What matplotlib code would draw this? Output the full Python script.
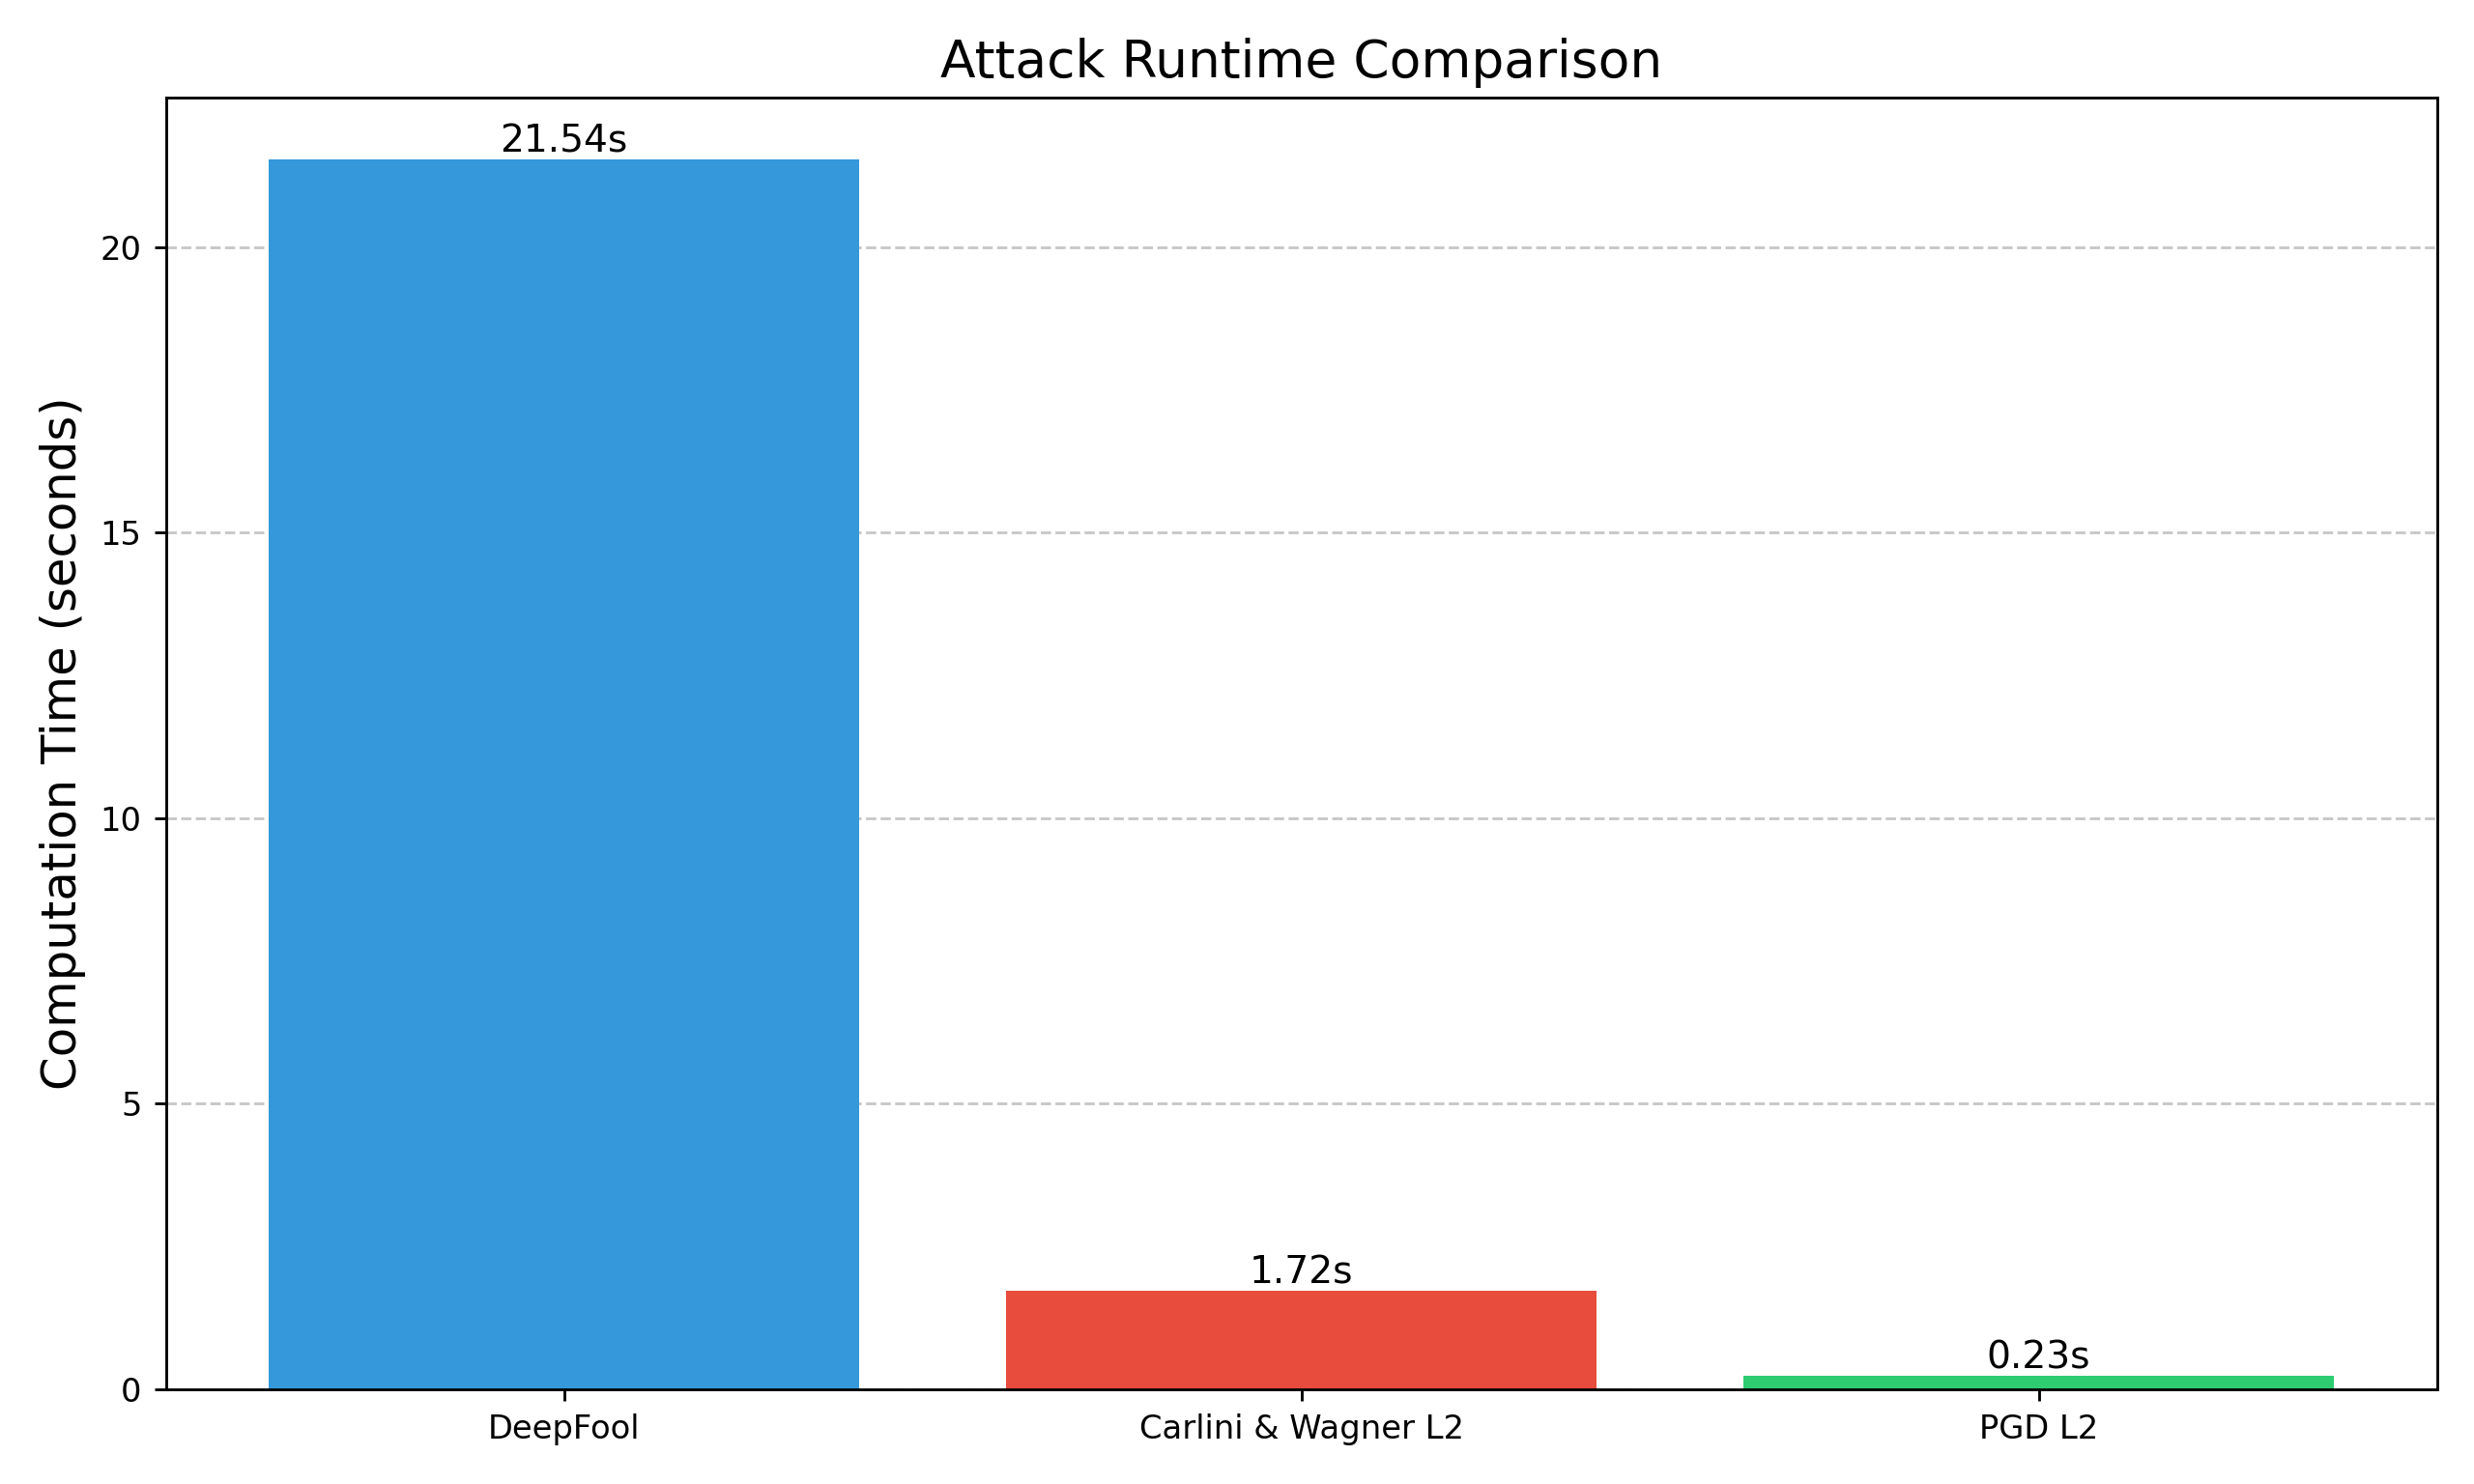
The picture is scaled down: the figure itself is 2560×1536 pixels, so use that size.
import matplotlib
matplotlib.use("Agg")
import matplotlib.pyplot as plt

attacks = ["DeepFool", "Carlini & Wagner L2", "PGD L2"]
runtimes = [21.54, 1.72, 0.23]
colors = ["#3498db", "#e74c3c", "#2ecc71"]

fig = plt.figure(figsize=(10, 6), dpi=256)
ax = fig.add_axes([0.067, 0.064, 0.918, 0.870])
bars = ax.bar(attacks, runtimes, color=colors, width=0.8, zorder=2)
for b, v in zip(bars, runtimes):
    ax.text(b.get_x() + b.get_width() / 2, v, f"{v:.2f}s", ha="center", va="bottom", fontsize=11)
ax.set_ylim(0, max(runtimes) * 1.05)
ax.set_title("Attack Runtime Comparison", fontsize=15)
ax.set_ylabel("Computation Time (seconds)", fontsize=14)
ax.yaxis.grid(True, linestyle="--", alpha=0.7, zorder=0)
ax.set_axisbelow(True)
ax.tick_params(labelsize=9.5)
fig.savefig("out.png", dpi=256)
